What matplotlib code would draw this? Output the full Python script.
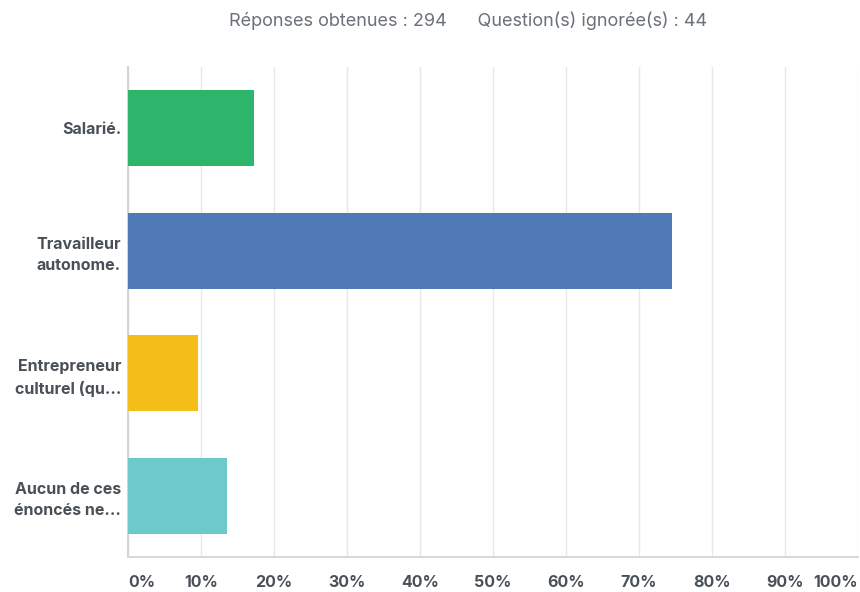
import matplotlib
matplotlib.use("Agg")
import matplotlib.pyplot as plt
import numpy as np

categories = ["Salarié.", "Travailleur\nautonome.", "Entrepreneur\nculturel (qu...", "Aucun de ces\nénoncés ne..."]
values = [17.3, 74.5, 9.6, 13.6]
colors = ["#2DB56B", "#507AB5", "#F5BD18", "#6CC9CC"]
xticks = [0, 10, 20, 30, 40, 50, 60, 70, 80, 90, 100]
xtick_labels = [f"{t}%" for t in xticks]
title = "Réponses obtenues : 294      Question(s) ignorée(s) : 44"

plt.rcParams['font.family'] = ['Inter', 'DejaVu Sans']

fig = plt.figure(figsize=(8.6, 5.92), dpi=100)
ax = fig.add_axes([128/860, 1-557/592, 730/860, 490/592])

y = np.arange(len(categories))
ax.barh(y, values, height=0.62, color=colors, zorder=3)
ax.set_ylim(len(categories)-0.5, -0.5)
ax.set_xlim(0, 100)

ax.set_xticks(xticks)
ax.set_xticklabels(xtick_labels, fontsize=11.5, color="#4A5058", fontweight="bold")
labs = ax.get_xticklabels()
labs[0].set_ha("left")
labs[-1].set_ha("right")
ax.tick_params(axis="x", length=0, pad=13)

ax.set_yticks(y)
ax.set_yticklabels(categories, fontsize=11.5, color="#4A5058", fontweight="bold", linespacing=1.5)
ax.tick_params(axis="y", length=0, pad=5)

ax.grid(axis="x", color="#E8E8E8", linewidth=1, zorder=0)
for s in ["top", "right"]:
    ax.spines[s].set_visible(False)
ax.spines["left"].set_color("#D4D4D4")
ax.spines["left"].set_linewidth(1.5)
ax.spines["bottom"].set_color("#D8D8D8")
ax.spines["bottom"].set_linewidth(1.5)

fig.text(468/860, 1-21/592, title, ha="center", va="center", fontsize=13, color="#6B7178")

fig.savefig("out.png", dpi=100)
